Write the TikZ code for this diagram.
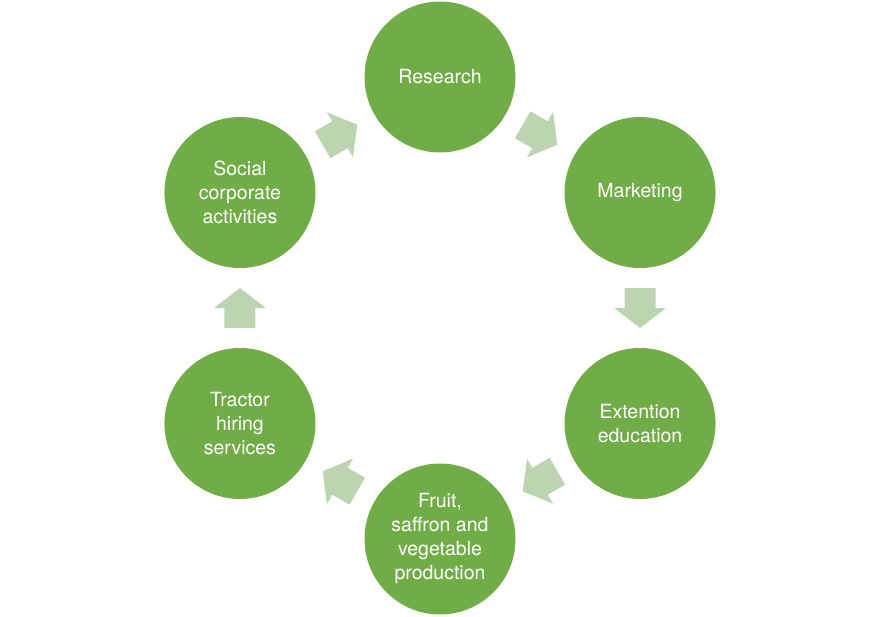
\documentclass[tikz,border=0pt]{standalone}
\usepackage{fontspec}
\setmainfont{TeX Gyre Heros}
\usetikzlibrary{calc}
\definecolor{circgreen}{HTML}{70AD47}
\definecolor{arrowgreen}{RGB}{188,212,176}
\tikzset{
  stage/.style={circle, fill=circgreen, minimum size=151pt, inner sep=0pt,
    text=white, align=center, font=\fontsize{19.5pt}{24pt}\selectfont},
  blockarrow/.pic={\fill[arrowgreen] (-20pt,-15.5pt) -- (0pt,-15.5pt) -- (0pt,-26pt) -- (20pt,0pt) -- (0pt,26pt) -- (0pt,15.5pt) -- (-20pt,15.5pt) -- cycle;}
}
\begin{document}
\begin{tikzpicture}
\useasboundingbox (-440pt,-308pt) rectangle (442pt,308pt);
\node[stage] (r) at (90:231pt) {Research};
\node[stage] (m) at (30:231pt) {Marketing};
\node[stage] (e) at (-30:231pt) {Extention\\education};
\node[stage] (f) at (-90:231pt) {Fruit,\\saffron and\\vegetable\\production};
\node[stage] (t) at (-150:231pt) {Tractor\\hiring\\services};
\node[stage] (s) at (150:231pt) {Social\\corporate\\activities};
\pic[rotate=30] at ($(s)!0.5!(r)$) {blockarrow};
\pic[rotate=-30] at ($(r)!0.5!(m)$) {blockarrow};
\pic[rotate=-90] at ($(m)!0.5!(e)$) {blockarrow};
\pic[rotate=-150] at ($(e)!0.5!(f)$) {blockarrow};
\pic[rotate=150] at ($(f)!0.5!(t)$) {blockarrow};
\pic[rotate=90] at ($(t)!0.5!(s)$) {blockarrow};
\end{tikzpicture}
\end{document}
